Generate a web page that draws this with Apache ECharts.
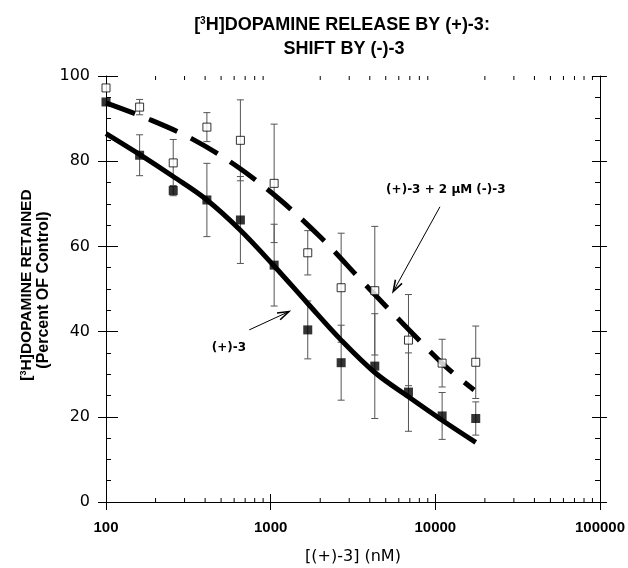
<!DOCTYPE html>
<html>
<head>
<meta charset="utf-8">
<script src="https://cdn.jsdelivr.net/npm/echarts@6/dist/echarts.min.js"></script>
<style>
html,body{margin:0;padding:0;background:#fff;}
#chart{width:628px;height:568px;}
</style>
</head>
<body>
<div id="chart"></div>
<script>
// ---- data ----
const concentrations = [100, 160, 256, 410, 655, 1050, 1680, 2680, 4290, 6870, 11000, 17600];
const retainedAlone  = [93.9, 81.4, 73.1, 70.9, 66.2, 55.6, 40.4, 32.7, 31.9, 25.8, 20.2, 19.6];
const errAlone       = [0, 4.8, 1.2, 8.6, 10.2, 9.6, 6.8, 8.8, 12.3, 9.2, 5.5, 3.9];
const retainedShift  = [97.2, 92.7, 79.6, 88.0, 84.9, 74.8, 58.5, 50.3, 49.6, 38.0, 32.6, 32.8];
const errShift       = [0, 1.8, 5.5, 3.4, 9.5, 13.9, 5.2, 12.8, 15.1, 10.7, 5.6, 8.5];

const fitAloneX = [100, 160, 256, 410, 655, 1050, 1680, 2680, 4290, 6870, 11000, 17600];
const fitAloneY = [86.5, 81.6, 76.4, 70.9, 63.8, 55.4, 46.6, 38.0, 30.4, 24.7, 19.2, 14.0];
const fitShiftX = [100, 181, 331, 607, 1112, 2040, 3616, 6385, 11490, 17200];
const fitShiftY = [93.7, 89.9, 85.3, 79.1, 71.3, 61.9, 51.7, 41.8, 31.9, 26.3];

const xMinorTicks = [200,300,400,500,600,700,800,900,2000,3000,4000,5000,6000,7000,8000,9000,20000,30000,40000,50000,60000,70000,80000,90000];
const yTickLabels = ['0','20','40','60','80','100'];
const xTickLabels = ['100','1000','10000','100000'];

const titleLine1 = '[{sup|3}H]DOPAMINE RELEASE BY (+)-3:';
const titleLine2 = 'SHIFT BY (-)-3';
const yTitle1 = '[{sup|3}H]DOPAMINE RETAINED';
const yTitle2 = '(Percent OF Control)';
const xTitle = '[(+)-3] (nM)';
const labelShift = '(+)-3 + 2 \u03BCM (-)-3';
const labelAlone = '(+)-3';
// annotation anchors in data coordinates [x, y]
const labelShiftPos = [11590, 73.2];
const arrowShift = [[10670, 69.3], [5550, 49.4]];
const labelAlonePos = [558, 36.2];
const arrowAlone = [[741, 40.4], [1291, 44.7]];

// ---- build ----
const pts = (xs, ys) => xs.map((x, i) => [x, ys[i]]);
const errData = (ys, es) => concentrations.map((x, i) => [x, ys[i] - es[i], ys[i] + es[i]]);

function errorRender(params, api) {
  const x = api.value(0), lo = api.value(1), hi = api.value(2);
  if (hi - lo <= 0) return;
  const p1 = api.coord([x, lo]), p2 = api.coord([x, hi]);
  const cap = 3.5;
  const st = {stroke: '#555', lineWidth: 1};
  return {type: 'group', children: [
    {type: 'line', shape: {x1: p1[0], y1: p1[1], x2: p2[0], y2: p2[1]}, style: st},
    {type: 'line', shape: {x1: p1[0]-cap, y1: p1[1], x2: p1[0]+cap, y2: p1[1]}, style: st},
    {type: 'line', shape: {x1: p2[0]-cap, y1: p2[1], x2: p2[0]+cap, y2: p2[1]}, style: st}
  ]};
}
function minorRender(params, api) {
  const v = api.value(0);
  const b = api.coord([v, 0]), t = api.coord([v, 100]);
  const st = {stroke: '#000', lineWidth: 1};
  return {type: 'group', children: [
    {type: 'line', shape: {x1: b[0], y1: b[1], x2: b[0], y2: b[1]-4}, style: st},
    {type: 'line', shape: {x1: t[0], y1: t[1], x2: t[0], y2: t[1]+4}, style: st}
  ]};
}

const axisLine = {show: true, lineStyle: {color: '#000', width: 1}};
function xAx(pos, inside, len, showLine, showLabel) {
  return {type: 'log', logBase: 10, min: 100, max: 100000, position: pos, gridIndex: 0,
    axisLine: showLine ? axisLine : {show: false},
    axisTick: {show: true, inside: inside, length: len, lineStyle: {color: '#000', width: 1}},
    splitLine: {show: false},
    axisLabel: showLabel ? {show: true, margin: 18, color: '#000', fontSize: 15, fontWeight: 'bold', fontFamily: 'Liberation Sans, Arial, sans-serif',
      formatter: v => { const i = Math.round(Math.log10(v)) - 2; return xTickLabels[i] || ''; }} : {show: false}};
}
function yAx(pos, inside, len, showLine, showLabel, minor) {
  return {type: 'value', min: 0, max: 100, interval: 20, position: pos, gridIndex: 0,
    axisLine: showLine ? axisLine : {show: false},
    axisTick: {show: true, inside: inside, length: len, lineStyle: {color: '#000', width: 1}},
    minorTick: minor ? {show: true, splitNumber: 4, length: 5, lineStyle: {color: '#000', width: 1}} : {show: false},
    splitLine: {show: false}, minorSplitLine: {show: false},
    axisLabel: showLabel ? {show: true, margin: 16, color: '#000', fontSize: 16, fontFamily: 'DejaVu Sans, sans-serif',
      formatter: v => yTickLabels[Math.round(v / 20)]} : {show: false}};
}

const chart = echarts.init(document.getElementById('chart'), null, {renderer: 'canvas'});
const option = {
  animation: false,
  backgroundColor: '#fff',
  grid: {left: 106, right: 27, top: 76, bottom: 66, containLabel: false},
  xAxis: [xAx('bottom', true, 7, true, true), xAx('bottom', false, 8, false, false),
          xAx('top', true, 8, true, false), xAx('top', false, 8, false, false)],
  yAxis: [yAx('left', true, 12, true, true, true), yAx('left', false, 8, false, false, false),
          yAx('right', true, 8, true, false, true), yAx('right', false, 7, false, false, false)],
  series: [
    {type: 'custom', name: 'minor', xAxisIndex: 0, yAxisIndex: 0, data: xMinorTicks.map(v => [v]), renderItem: minorRender, silent: true, z: 1},
    {type: 'custom', name: 'errAlone', xAxisIndex: 0, yAxisIndex: 0, data: errData(retainedAlone, errAlone), renderItem: errorRender, z: 2},
    {type: 'custom', name: 'errShift', xAxisIndex: 0, yAxisIndex: 0, data: errData(retainedShift, errShift), renderItem: errorRender, z: 2},
    {type: 'line', name: 'fitShift', data: pts(fitShiftX, fitShiftY), smooth: 0.35, showSymbol: false, symbol: 'none',
      lineStyle: {color: '#000', width: 5, type: [31, 15], cap: 'butt'}, z: 3},
    {type: 'line', name: 'fitAlone', data: pts(fitAloneX, fitAloneY), smooth: 0.35, showSymbol: false, symbol: 'none',
      lineStyle: {color: '#000', width: 5}, z: 3},
    {type: 'scatter', name: 'shift', data: pts(concentrations, retainedShift), symbol: 'rect', symbolSize: 8,
      itemStyle: {color: '#fff', borderColor: '#000', borderWidth: 1}, z: 4},
    {type: 'scatter', name: 'alone', data: pts(concentrations, retainedAlone), symbol: 'rect', symbolSize: 9,
      itemStyle: {color: '#000'}, z: 4}
  ]
};
chart.setOption(option);

const toPx = p => chart.convertToPixel({xAxisIndex: 0, yAxisIndex: 0}, p);
function arrow(fromD, toD) {
  const a = toPx(fromD), b = toPx(toD);
  const ang = Math.atan2(b[1] - a[1], b[0] - a[0]);
  const L = 12, w = 0.32;
  const h1 = [b[0] - L * Math.cos(ang - w), b[1] - L * Math.sin(ang - w)];
  const h2 = [b[0] - L * Math.cos(ang + w), b[1] - L * Math.sin(ang + w)];
  return [
    {type: 'line', shape: {x1: a[0], y1: a[1], x2: b[0], y2: b[1]}, style: {stroke: '#000', lineWidth: 1}},
    {type: 'polyline', shape: {points: [h1, b, h2]}, style: {stroke: '#000', lineWidth: 1.6, fill: null}}
  ];
}
const supRich = (size) => ({sup: {fontSize: size, fontWeight: 'bold', fontFamily: 'Liberation Sans, Arial, sans-serif', verticalAlign: 'top', fill: '#000'}});
const ls = toPx(labelShiftPos), la = toPx(labelAlonePos);
const gridCenter = (toPx([100, 0])[0] + toPx([100000, 0])[0]) / 2;
chart.setOption({graphic: [
  {type: 'text', x: 342, y: 25, style: {text: titleLine1, fontSize: 18, fontWeight: 'bold', fontFamily: 'Liberation Sans, Arial, sans-serif',
    fill: '#000', align: 'center', verticalAlign: 'middle', rich: supRich(10)}},
  {type: 'text', x: 344, y: 49, style: {text: titleLine2, fontSize: 18, fontWeight: 'bold', fontFamily: 'Liberation Sans, Arial, sans-serif',
    fill: '#000', align: 'center', verticalAlign: 'middle'}},
  {type: 'text', x: 27, y: 285, rotation: Math.PI / 2, style: {text: yTitle1, fontSize: 15.5, fontWeight: 'bold', fontFamily: 'Liberation Sans, Arial, sans-serif',
    fill: '#000', align: 'center', verticalAlign: 'middle', rich: supRich(9)}},
  {type: 'text', x: 44, y: 290, rotation: Math.PI / 2, style: {text: yTitle2, fontSize: 16, fontWeight: 'bold', fontFamily: 'Liberation Sans, Arial, sans-serif',
    fill: '#000', align: 'center', verticalAlign: 'middle'}},
  {type: 'text', x: gridCenter, y: 557, style: {text: xTitle, fontSize: 16, fontFamily: 'DejaVu Sans, sans-serif',
    fill: '#000', align: 'center', verticalAlign: 'middle'}},
  {type: 'text', x: ls[0], y: ls[1], style: {text: labelShift, fontSize: 12, fontWeight: 'bold', fontFamily: 'DejaVu Sans, sans-serif',
    fill: '#000', align: 'center', verticalAlign: 'middle'}},
  {type: 'text', x: la[0], y: la[1], style: {text: labelAlone, fontSize: 12, fontWeight: 'bold', fontFamily: 'DejaVu Sans, sans-serif',
    fill: '#000', align: 'center', verticalAlign: 'middle'}},
  ...arrow(arrowShift[0], arrowShift[1]),
  ...arrow(arrowAlone[0], arrowAlone[1])
]});
</script>
</body>
</html>
